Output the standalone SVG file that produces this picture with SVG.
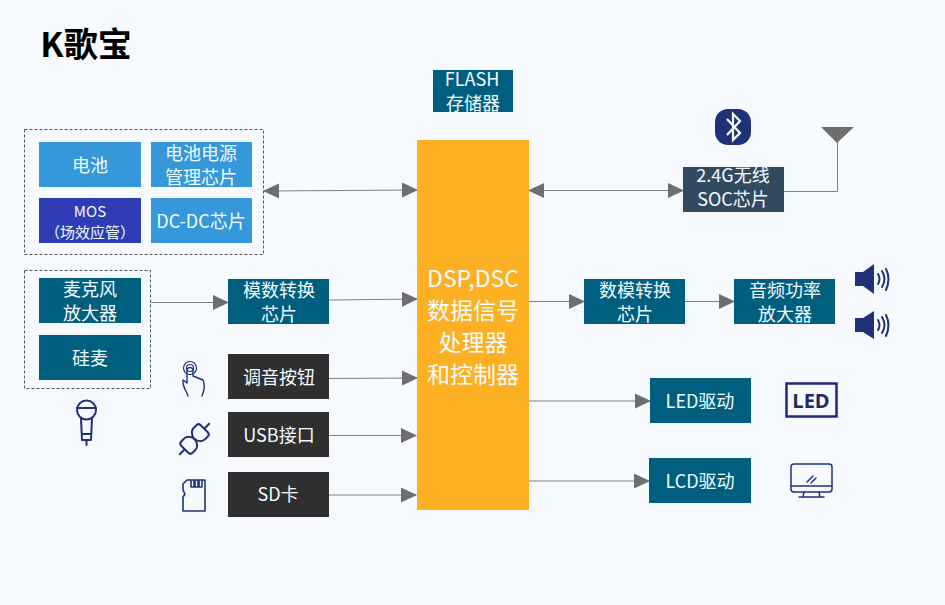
<svg xmlns="http://www.w3.org/2000/svg" width="945" height="605" viewBox="0 0 945 605">
<style>
text{font-family:"Noto Sans CJK SC","Noto Sans",sans-serif;fill:#f2fbff;text-anchor:middle;font-size:18px}
.teal{fill:#005f7f}.blue{fill:#3498db}.dark{fill:#2f2f2f}
.dash{fill:none;stroke:#555;stroke-width:1;stroke-dasharray:3 2}
.c{fill:none;stroke:#808080;stroke-width:1}
.ic{fill:none;stroke:#1f3278;stroke-width:2;stroke-linecap:round;stroke-linejoin:round}
.sp{fill:#1f3278}
</style>
<defs>
<marker id="a" markerWidth="16" markerHeight="15" refX="15" refY="7.500" orient="auto-start-reverse" markerUnits="userSpaceOnUse"><path d="M0 0L16 7.500L0 15Z" fill="#6e6e6e"/></marker>
</defs>
<rect width="945" height="605" fill="#f6f9fd"/>
<g id="title"><text x="86" y="57" style="font-size:34px;font-weight:700;fill:#000">K歌宝</text></g>
<g id="groups">
<rect class="dash" x="24.500" y="129.500" width="239" height="125"/>
<rect class="dash" x="24.500" y="270.500" width="126" height="118"/>
</g>
<g id="connectors">
<path class="c" d="M264 191L417 190" marker-start="url(#a)" marker-end="url(#a)"/>
<path class="c" d="M151 302.500L228 302.500" marker-end="url(#a)"/>
<path class="c" d="M329 300L417 299" marker-end="url(#a)"/>
<path class="c" d="M329 378.500L417 378" marker-end="url(#a)"/>
<path class="c" d="M329 435.500L416 435.500" marker-end="url(#a)"/>
<path class="c" d="M329 495L416 495" marker-end="url(#a)"/>
<path class="c" d="M529 190.500L683 190.500" marker-start="url(#a)" marker-end="url(#a)"/>
<path class="c" d="M784 191.500H837.500V140"/>
<path class="c" d="M529 301.500L584 301.500" marker-end="url(#a)"/>
<path class="c" d="M685 301.500L734 301.500" marker-end="url(#a)"/>
<path class="c" d="M529 401L650 401" marker-end="url(#a)"/>
<path class="c" d="M529 481L649 481" marker-end="url(#a)"/>
</g>
<g id="flash"><rect class="teal" x="433" y="70" width="80" height="42"/><text x="472" y="86">FLASH</text><text x="473" y="110">存储器</text></g>
<g id="battery"><rect class="blue" x="39" y="142" width="102" height="45"/><text x="90" y="172">电池</text></g>
<g id="bms"><rect class="blue" x="151" y="142" width="101" height="45"/><text x="201" y="160">电池电源</text><text x="201" y="184">管理芯片</text></g>
<g id="mos"><rect x="39" y="198" width="102" height="45" fill="#2f3db5"/><text x="90" y="217" style="font-size:15px">MOS</text><text x="90" y="238" style="font-size:15px">（场效应管）</text></g>
<g id="dcdc"><rect class="blue" x="151" y="198" width="101" height="45"/><text x="201" y="228">DC-DC芯片</text></g>
<g id="mic-amp"><rect class="teal" x="39" y="278" width="102" height="45"/><text x="90" y="296">麦克风</text><text x="90" y="320">放大器</text></g>
<g id="simic"><rect class="teal" x="39" y="335" width="102" height="45"/><text x="90" y="365">硅麦</text></g>
<g id="adc"><rect class="teal" x="228" y="279" width="101" height="45"/><text x="279" y="297">模数转换</text><text x="279" y="321">芯片</text></g>
<g id="tune"><rect class="dark" x="228" y="354" width="101" height="45"/><text x="279" y="384">调音按钮</text></g>
<g id="usb"><rect class="dark" x="228" y="412" width="101" height="45"/><text x="279" y="442">USB接口</text></g>
<g id="sd"><rect class="dark" x="228" y="472" width="101" height="45"/><text x="278" y="501">SD卡</text></g>
<g id="dsp"><rect x="417" y="140" width="112" height="370" fill="#fdb022"/><text x="473" y="287" style="font-size:23px">DSP,DSC</text><text x="473" y="319" style="font-size:23px">数据信号</text><text x="473" y="351" style="font-size:23px">处理器</text><text x="473" y="383" style="font-size:23px">和控制器</text></g>
<g id="soc"><rect x="683" y="167" width="101" height="45" fill="#324a5f"/><text x="733" y="182">2.4G无线</text><text x="733" y="206">SOC芯片</text></g>
<g id="dac"><rect class="teal" x="584" y="279" width="101" height="45"/><text x="635" y="297">数模转换</text><text x="635" y="321">芯片</text></g>
<g id="pa"><rect class="teal" x="734" y="279" width="101" height="45"/><text x="785" y="297">音频功率</text><text x="785" y="321">放大器</text></g>
<g id="led"><rect class="teal" x="650" y="378" width="101" height="45"/><text x="700" y="408">LED驱动</text></g>
<g id="lcd"><rect class="teal" x="649" y="458" width="102" height="45"/><text x="700" y="488">LCD驱动</text></g>
<g id="icon-bt"><rect x="715" y="109" width="36" height="36" rx="13" fill="#1f3278"/><path d="M727 119L740 133L733 140V114L740 121L727 135" fill="none" stroke="#fff" stroke-width="2.200"/></g>
<g id="icon-antenna"><path d="M821 127H854L837 143Z" fill="#6e6e6e"/></g>
<g id="icon-speaker1"><path class="sp" d="M855 272H863L874 264V294L863 286H855Z"/><path class="ic" d="M878 274Q881 279 878 284M882 271Q887 279 882 287M886 269Q891 279 886 290" stroke-width="1.800"/></g>
<g id="icon-speaker2"><path class="sp" d="M855 318H863L874 311V339L863 332H855Z"/><path class="ic" d="M878 320Q881 325 878 330M882 317Q887 325 882 333M886 315Q891 325 886 336" stroke-width="1.800"/></g>
<g id="icon-led"><rect x="786.500" y="383.500" width="50" height="33" fill="none" stroke="#1f2a78" stroke-width="2.500"/><text x="811" y="408" style="font-size:20px;font-weight:700;fill:#1f2a60;font-family:'Open Sans',sans-serif">LED</text></g>
<g id="icon-monitor"><rect x="791" y="464" width="41" height="28" rx="3" class="ic" style="stroke-width:1.500"/><path class="ic" style="stroke-width:1.500" d="M791 486H832M804 492L803 497M819 492L820 497M799 497H824M807 482L813 476M811 483L816 478"/></g>
<g id="icon-mic"><circle cx="86.500" cy="410" r="9.500" class="ic"/><path class="ic" d="M77 408H96M81 419L82 440H91L92 419M82 434H91M86.500 440V445"/></g>
<g id="icon-touch"><circle cx="190" cy="368" r="6.500" class="ic" style="stroke-width:1.200"/><circle cx="190" cy="368" r="3.500" class="ic" style="stroke-width:1.200"/><path class="ic" style="stroke-width:1.400" d="M188 396C186 390 182 386 183 380L187 383V369Q190 366 193 369V376L203 380Q206 386 202 396"/></g>
<g id="icon-plug">
<g transform="translate(200 433) rotate(45)"><path class="ic" d="M-8 1V-3A3 3 0 0 1 -5 -6H5A3 3 0 0 1 8 -3V1C8 4 5 8 0 8C-5 8 -8 4 -8 1ZM0 -13V-6"/></g>
<g transform="translate(189 445) rotate(225)"><path class="ic" d="M-8 1V-3A3 3 0 0 1 -5 -6H5A3 3 0 0 1 8 -3V1C8 4 5 8 0 8C-5 8 -8 4 -8 1ZM0 -13V-6"/></g>
</g>
<g id="icon-sdcard"><path class="ic" style="stroke-width:1.600" d="M187 480H205V511H183V497L185 494L183 490V484ZM191 481V487H194V481M195 481V487H198V481M199 481V487H202V481"/></g>
</svg>
